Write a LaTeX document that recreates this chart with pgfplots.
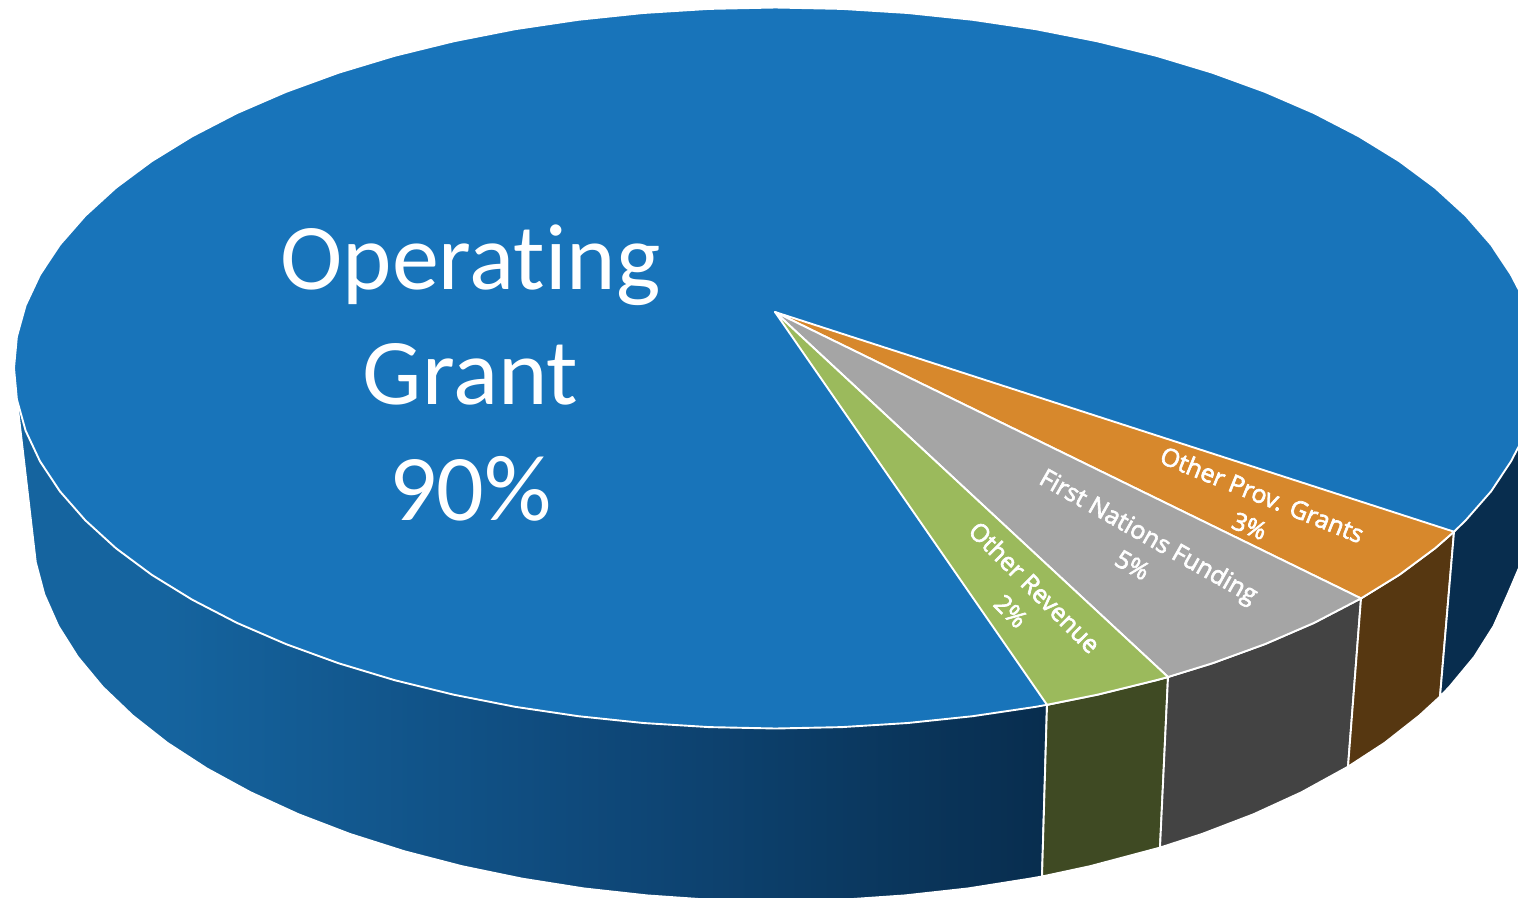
\documentclass[border=0pt]{standalone}
\usepackage{pgfplots}
\pgfplotsset{compat=1.18}
\usepackage{fontspec}
\setmainfont[Ligatures=NoCommon]{Carlito}
\newfontfamily\smalllabel[FakeBold=2.6,Ligatures=NoCommon]{Open Sans}

\definecolor{topBlue}{HTML}{1874BA}
\definecolor{topOrange}{HTML}{D7882C}
\definecolor{topGray}{HTML}{A5A5A5}
\definecolor{topGreen}{HTML}{9BBA5C}
\definecolor{sideOrange}{HTML}{563711}
\definecolor{sideGray}{HTML}{434343}
\definecolor{sideGreen}{HTML}{3F4A23}
\definecolor{sideNavy}{HTML}{082D4E}
\definecolor{sideA}{HTML}{15649F}
\definecolor{sideB}{HTML}{0F4A7C}

% Left-to-right darkening of the long curved wall of the disc
\pgfdeclarehorizontalshading{wallshade}{100bp}{
  color(0bp)=(sideA); color(25bp)=(sideA); color(32bp)=(sideA);
  color(52bp)=(sideB); color(75bp)=(sideNavy); color(100bp)=(sideNavy)}

\begin{document}
\begin{tikzpicture}[x=0.5pt,y=0.5pt]
\useasboundingbox (0,0) rectangle (1519,899);
\begin{axis}[
  at={(0,0)}, anchor=south west,
  scale only axis, width=759.5pt, height=449.5pt,
  xmin=0, xmax=1519, ymin=0, ymax=899, y dir=reverse,
  hide axis, no markers, clip=true,
  every axis plot/.append style={line join=round, line width=0.95pt, forget plot},
]
% Wall of the Operating Grant slice (left and front)
\addplot[shade, shading=wallshade, draw=white] coordinates {
  (16.9,399.4) (35.8,562.4) (44.3,594.4) (58.3,626) (77.8,656.9) (102.6,686.8)
  (132.6,715.5) (167.3,742.8) (206.9,768.5) (250.6,792.3) (298.4,814.2)
  (349.8,833.9) (404.5,851.3) (462,866.2) (521.9,878.6) (583.7,888.4)
  (647,895.4) (699,899) (853,899) (905,895.4) (968.3,888.4) (1030.1,878.6)
  (1042,876.5) (1047,704.8) (775,500) } -- cycle;
% Walls of the three small slices and the right end of the large one
\addplot[fill=sideGreen, draw=white] coordinates {
  (1047,704.8) (1042,876.5) (1090,866.2) (1160,847.6) (1168,677) } -- cycle;
\addplot[fill=sideGray, draw=white] coordinates {
  (1168,677) (1160,847.6) (1202.2,833.9) (1253.6,814.2) (1301.4,792.3)
  (1348,766.7) (1361,598.4) } -- cycle;
\addplot[fill=sideOrange, draw=white] coordinates {
  (1361,598.4) (1348,766.7) (1384.7,742.8) (1419.4,715.5) (1440,696.6)
  (1454,531.7) } -- cycle;
\addplot[fill=sideNavy, draw=white] coordinates {
  (1454,531.7) (1440,696.6) (1449.4,686.8) (1474.2,656.9) (1493.7,626)
  (1507.7,594.4) (1519,568) (1519,445.9) } -- cycle;
% Top face of the disc
\addplot[fill=topBlue, draw=white] coordinates {
  (1519,290.1) (1511,274.7) (1491.1,244.7) (1465.7,215.7) (1435,187.7)
  (1399.3,161.2) (1358.8,136.3) (1314,113.1) (1265,91.9) (1212.3,72.7)
  (1156.3,55.8) (1097.3,41.3) (1035.9,29.2) (972.6,19.8) (907.7,13)
  (841.9,8.9) (775.5,7.5) (709.1,8.9) (643.3,13) (578.4,19.8) (515.1,29.2)
  (453.7,41.3) (394.7,55.8) (338.7,72.7) (286,91.9) (237,113.1) (192.2,136.3)
  (151.7,161.2) (116,187.7) (85.3,215.7) (59.9,244.7) (40,274.7) (25.6,305.4)
  (16.9,336.6) (14,368) (16.9,399.4) (25.6,430.6) (40,461.3) (59.9,491.3)
  (85.3,520.3) (116,548.3) (151.7,574.8) (192.2,599.7) (237,622.9) (286,644.1)
  (338.7,663.3) (394.7,680.2) (453.7,694.7) (515.1,706.8) (578.4,716.2)
  (643.3,723) (709.1,727.1) (775.5,728.5) (841.9,727.1) (907.7,723)
  (972.6,716.2) (1035.9,706.8) (1047,704.8) (1097.3,694.7) (1156.3,680.2)
  (1168,677) (1212.3,663.3) (1265,644.1) (1314,622.9) (1361,598.4)
  (1399.3,574.8) (1435,548.3) (1454,531.7) (1465.7,520.3) (1491.1,491.3)
  (1511,461.3) (1519,445.9) } -- cycle;
% The three small slices on the top face
\addplot[fill=topOrange, draw=white] coordinates {
  (775,312) (1454,531.7) (1435,548.3) (1399.3,574.8) (1361,598.4) } -- cycle;
\addplot[fill=topGray, draw=white] coordinates {
  (775,312) (1361,598.4) (1314,622.9) (1265,644.1) (1212.3,663.3) (1168,677) } -- cycle;
\addplot[fill=topGreen, draw=white] coordinates {
  (775,312) (1168,677) (1156.3,680.2) (1097.3,694.7) (1047,704.8) } -- cycle;

% Slice labels
\node[text=white, align=center, inner sep=0pt,
      font=\fontsize{47}{57.75}\selectfont]
  at (axis cs:470.5,373) {Operating\\Grant\\90\%};
\node[text=white, align=center, inner sep=0pt, rotate=-22,
      font=\smalllabel\fontsize{12.4}{16.8}\selectfont]
  at (axis cs:1256,510) {Other Prov. Grants\\3\%};
\node[text=white, align=center, inner sep=0pt, rotate=-29.5,
      font=\smalllabel\fontsize{12.4}{16.8}\selectfont]
  at (axis cs:1141,550) {First Nations Funding\\5\%};
\node[text=white, align=center, inner sep=0pt, rotate=-45,
      font=\smalllabel\fontsize{12.4}{16.8}\selectfont]
  at (axis cs:1023,599) {Other Revenue\\2\%};
\end{axis}
\end{tikzpicture}
\end{document}
